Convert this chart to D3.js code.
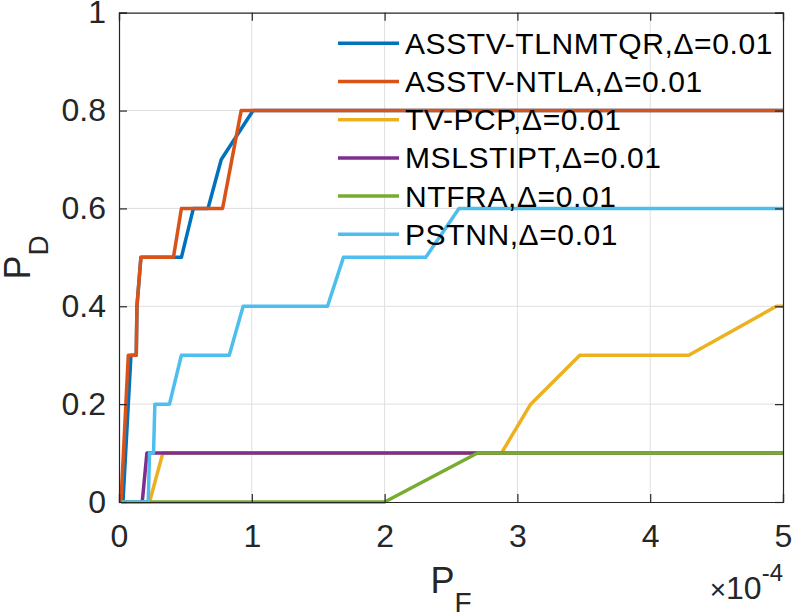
<!DOCTYPE html>
<html>
  <head>
    <meta charset="utf-8">
    <title>ROC curves</title>
    <script src="https://cdn.jsdelivr.net/npm/d3@7"></script>
    <style>
      body { margin: 0; background: #fff; }
      svg { display: block; font-family: "Liberation Sans", Arial, sans-serif; }
    </style>
  </head>

  <body>
    <svg id="chart" width="794" height="615"></svg>

    <script>
      // data (P_F in units of 1e-4)
      const names = ["ASSTV-TLNMTQR", "ASSTV-NTLA", "TV-PCP", "MSLSTIPT", "NTFRA", "PSTNN"];
      const colours = ["#0072BD", "#D95319", "#EDB120", "#7E2F8E", "#77AC30", "#4DBEEE"];

      const tlnmtqrPF = [0.03, 0.09, 0.13, 0.135, 0.165, 0.47, 0.56, 0.67, 0.77, 1.01, 5];
      const tlnmtqrPD = [0, 0.3, 0.3, 0.4, 0.5, 0.5, 0.6, 0.6, 0.7, 0.8, 0.8];

      const ntlaPF = [0.015, 0.07, 0.13, 0.135, 0.165, 0.41, 0.47, 0.78, 0.92, 5];
      const ntlaPD = [0, 0.3, 0.3, 0.4, 0.5, 0.5, 0.6, 0.6, 0.8, 0.8];

      const tvpcpPF = [0.02, 0.23, 0.33, 2.88, 3.1, 3.47, 4.29, 4.95, 5];
      const tvpcpPD = [0, 0, 0.1, 0.1, 0.2, 0.3, 0.3, 0.4, 0.4];

      const mslstiptPF = [0.02, 0.175, 0.21, 5];
      const mslstiptPD = [0, 0, 0.1, 0.1];

      const ntfraPF = [0.02, 2.0, 2.7, 5];
      const ntfraPD = [0, 0, 0.1, 0.1];

      const pstnnPF = [0.02, 0.22, 0.23, 0.26, 0.27, 0.38, 0.47, 0.83, 0.935, 1.57, 1.69, 2.31, 2.56, 5];
      const pstnnPD = [0, 0, 0.1, 0.1, 0.2, 0.2, 0.3, 0.3, 0.4, 0.4, 0.5, 0.5, 0.6, 0.6];

      const xTicks = [0, 1, 2, 3, 4, 5];
      const yTicks = [0, 0.2, 0.4, 0.6, 0.8, 1];

      const series = [
        [tlnmtqrPF, tlnmtqrPD],
        [ntlaPF, ntlaPD],
        [tvpcpPF, tvpcpPD],
        [mslstiptPF, mslstiptPD],
        [ntfraPF, ntfraPD],
        [pstnnPF, pstnnPD]
      ].map(function(s, k) {
        return { name: names[k], colour: colours[k], points: s[0].map((px, j) => [px, s[1][j]]) };
      });

      // elements
      const chart = d3.select("#chart");
      const mLeft = 119, mRight = 783, mTop = 12.7, mBottom = 502;
      const axisColour = "#262626";

      const x = d3.scaleLinear().domain([0, 5]).range([mLeft, mRight]);
      const y = d3.scaleLinear().domain([0, 1]).range([mBottom, mTop]);

      // grid
      chart.append("g")
        .selectAll("line")
        .data(xTicks.slice(1, -1))
        .join("line")
          .attr("x1", d => x(d)).attr("x2", d => x(d))
          .attr("y1", mTop).attr("y2", mBottom)
          .style("stroke", "#dfdfdf").style("stroke-width", 1);
      chart.append("g")
        .selectAll("line")
        .data(yTicks.slice(1, -1))
        .join("line")
          .attr("x1", mLeft).attr("x2", mRight)
          .attr("y1", d => y(d)).attr("y2", d => y(d))
          .style("stroke", "#dfdfdf").style("stroke-width", 1);

      // curves
      const line = d3.line().x(d => x(d[0])).y(d => y(d[1]));
      chart.append("g")
        .selectAll("path")
        .data(series)
        .join("path")
          .attr("d", d => line(d.points))
          .style("fill", "none")
          .style("stroke", d => d.colour)
          .style("stroke-width", 3.5)
          .style("stroke-linejoin", "round");

      // axes
      chart.append("g")
        .attr("transform", "translate(0," + mBottom + ")")
        .call(d3.axisBottom(x).tickValues(xTicks).tickSize(-8).tickPadding(22).tickFormat(d3.format("d")));
      chart.append("g")
        .attr("transform", "translate(0," + mTop + ")")
        .call(d3.axisTop(x).tickValues(xTicks).tickSize(-8).tickFormat(""));
      chart.append("g")
        .attr("transform", "translate(" + mLeft + ",0)")
        .call(d3.axisLeft(y).tickValues(yTicks).tickSize(-8).tickPadding(13)
          .tickFormat(d => d === 0 || d === 1 ? d3.format("d")(d) : d3.format(".1f")(d)));
      chart.append("g")
        .attr("transform", "translate(" + mRight + ",0)")
        .call(d3.axisRight(y).tickValues(yTicks).tickSize(-8).tickFormat(""));

      chart.selectAll(".domain").style("stroke", axisColour).style("stroke-width", 1.2);
      chart.selectAll(".tick line").style("stroke", axisColour).style("stroke-width", 1.2);
      chart.selectAll(".tick text")
        .style("font-family", "Liberation Sans, Arial, sans-serif")
        .style("font-size", "32px")
        .style("fill", axisColour);

      // axis labels
      const xLabel = chart.append("text")
        .attr("x", (mLeft + mRight) / 2)
        .attr("y", 593)
        .attr("text-anchor", "middle")
        .style("font-size", "36px")
        .style("fill", axisColour);
      xLabel.append("tspan").text("P");
      xLabel.append("tspan").attr("dy", 19).style("font-size", "28px").text("F");

      const yLabel = chart.append("text")
        .attr("transform", "translate(30," + ((mTop + mBottom) / 2) + ") rotate(-90)")
        .attr("text-anchor", "middle")
        .style("font-size", "36px")
        .style("fill", axisColour);
      yLabel.append("tspan").text("P");
      yLabel.append("tspan").attr("dy", 18).style("font-size", "28px").text("D");

      // exponent
      const expo = chart.append("text")
        .attr("x", mRight)
        .attr("y", 599)
        .attr("text-anchor", "end")
        .style("font-size", "32px")
        .style("fill", axisColour);
      expo.append("tspan").style("font-size", "28px").text("\u00d7");
      expo.append("tspan").text("10");
      expo.append("tspan").attr("dy", -18).style("font-size", "24px").text("-4");

      // legend
      const legend = chart.append("g")
        .selectAll("g")
        .data(series)
        .join("g")
          .attr("transform", (d, k) => "translate(0," + (43.3 + k * 38.2) + ")");
      legend.append("line")
        .attr("x1", 338).attr("x2", 399)
        .style("stroke", d => d.colour)
        .style("stroke-width", 3.5);
      legend.append("text")
        .attr("x", 405)
        .attr("y", 10.5)
        .style("font-size", "30px")
        .style("letter-spacing", "0.6px")
        .style("fill", "#000")
        .text(d => d.name + ",\u0394=0.01");
    </script>
  </body>
</html>
